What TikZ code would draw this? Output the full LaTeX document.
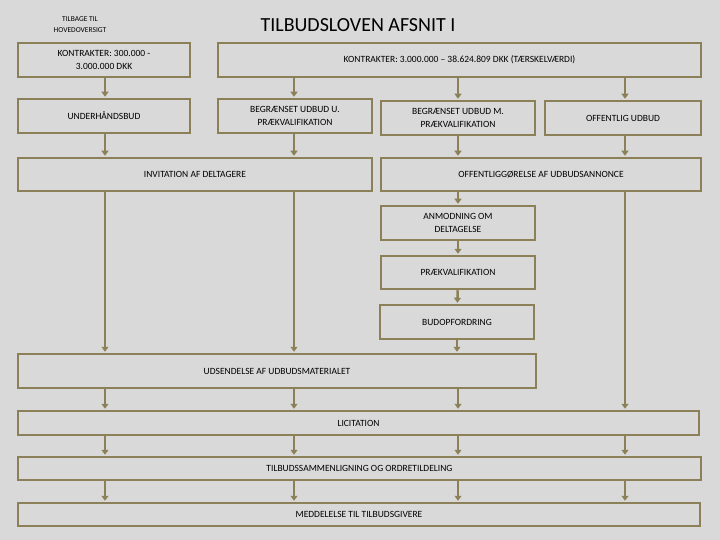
\documentclass[tikz,border=0pt]{standalone}
\usepackage{fontspec}
\setmainfont{Carlito}
\usetikzlibrary{arrows.meta, positioning}
\definecolor{udbudolive}{RGB}{140,128,88}
\definecolor{udbudgray}{RGB}{217,217,217}

\begin{document}
\begin{tikzpicture}[
    x=1pt, y=-1pt,
    box/.style={draw=udbudolive, line width=2.5pt, inner sep=0pt, align=center,
                font=\fontsize{9.5}{13}\selectfont},
    flow/.style={draw=udbudolive, line width=2.5pt,
                 -{Triangle[width=7pt,length=5pt]}, shorten >=1pt}
]
    % Background
    \fill[udbudgray] (0,0) rectangle (720,540);
    \useasboundingbox (0,0) rectangle (720,540);

    % Titles
    \node[font=\fontsize{7.5}{11}\selectfont, align=center] (back) at (80,25) {TILBAGE TIL\\HOVEDOVERSIGT};
    \node[font=\fontsize{20}{24}\selectfont] (title) at (358,25) {TILBUDSLOVEN AFSNIT I};

    % Column positions
    \coordinate (c1) at (105,0);
    \coordinate (c2) at (294,0);
    \coordinate (c3) at (458,0);
    \coordinate (c4) at (625,0);

    % Contract boxes
    \node[box, minimum width=172pt, minimum height=34pt] (k1) at (104,60) {KONTRAKTER: 300.000 -\\3.000.000 DKK};
    \node[box, minimum width=483pt, minimum height=34pt] (k2) at (459.5,60) {KONTRAKTER: 3.000.000 -- 38.624.809 DKK (TÆRSKELVÆRDI)};

    % Procedures
    \node[box, minimum width=172pt, minimum height=34pt] (und) at (104,116) {UNDERHÅNDSBUD};
    \node[box, minimum width=154pt, minimum height=34pt] (buu) at (295,116) {BEGRÆNSET UDBUD U.\\PRÆKVALIFIKATION};
    \node[box, minimum width=154pt, minimum height=34pt] (bum) at (458,118) {BEGRÆNSET UDBUD M.\\PRÆKVALIFIKATION};
    \node[box, minimum width=156pt, minimum height=34pt] (off) at (623,118) {OFFENTLIG UDBUD};

    % Invitation / annonce
    \node[box, minimum width=354pt, minimum height=33pt] (inv) at (195,174.5) {INVITATION AF DELTAGERE};
    \node[box, minimum width=320pt, minimum height=33pt] (ann) at (541,174.5) {OFFENTLIGGØRELSE AF UDBUDSANNONCE};

    % Prequalification chain
    \node[box, minimum width=154pt, minimum height=34pt] (anm) at (458,223) {ANMODNING OM\\DELTAGELSE};
    \node[box, minimum width=154pt, minimum height=33pt] (prk) at (458,272.5) {PRÆKVALIFIKATION};
    \node[box, minimum width=154pt, minimum height=34pt] (bud) at (457,322) {BUDOPFORDRING};

    % Common steps
    \node[box, minimum width=518pt, minimum height=34pt] (uds) at (277,371) {UDSENDELSE AF UDBUDSMATERIALET};
    \node[box, minimum width=681pt, minimum height=24pt] (lic) at (358.5,423) {LICITATION};
    \node[box, minimum width=683pt, minimum height=23pt] (tilb) at (359.5,468.5) {TILBUDSSAMMENLIGNING OG ORDRETILDELING};
    \node[box, minimum width=682pt, minimum height=23pt] (med) at (359,514.5) {MEDDELELSE TIL TILBUDSGIVERE};

    % Arrows
    \draw[flow] (k1.south -| c1) -- (und.north -| c1);
    \foreach \c/\t in {c2/buu, c3/bum, c4/off}
        \draw[flow] (k2.south -| \c) -- (\t.north -| \c);
    \draw[flow] (und.south -| c1) -- (inv.north -| c1);
    \draw[flow] (buu.south -| c2) -- (inv.north -| c2);
    \draw[flow] (bum.south -| c3) -- (ann.north -| c3);
    \draw[flow] (off.south -| c4) -- (ann.north -| c4);
    \draw[flow] (ann.south -| c3) -- (anm.north -| c3);
    \draw[flow] (anm) -- (prk);
    \draw[flow] (prk) -- (bud);
    \draw[flow] (bud) -- (uds.north -| bud);
    \foreach \c in {c1, c2}
        \draw[flow] (inv.south -| \c) -- (uds.north -| \c);
    \foreach \c in {c1, c2, c3}
        \draw[flow] (uds.south -| \c) -- (lic.north -| \c);
    \draw[flow] (ann.south -| c4) -- (lic.north -| c4);
    \foreach \c in {c1, c2, c3, c4} {
        \draw[flow] (lic.south -| \c) -- (tilb.north -| \c);
        \draw[flow] (tilb.south -| \c) -- (med.north -| \c);
    }
\end{tikzpicture}
\end{document}
